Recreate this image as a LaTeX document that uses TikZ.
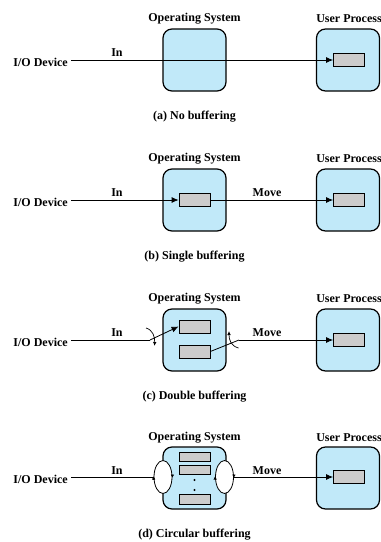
\documentclass[tikz,border=0pt]{standalone}
\usepackage{fontspec}
\setmainfont{Liberation Serif}
\usetikzlibrary{arrows.meta,shapes.geometric}

\definecolor{boxblue}{RGB}{193,233,249}
\definecolor{bufgray}{RGB}{204,204,204}

\tikzset{
  lbl/.style={font=\fontsize{12}{14}\selectfont\bfseries, inner sep=0pt},
  osbox/.style={draw=black, line width=1.2pt, fill=boxblue, rounded corners=9pt,
    minimum width=63pt, minimum height=62pt, inner sep=0pt},
  buf/.style={draw=black, line width=0.8pt, fill=bufgray, inner sep=0pt,
    minimum width=31pt, minimum height=13pt},
  smallbuf/.style={buf, minimum height=9.5pt},
  wire/.style={line width=0.8pt},
  flow/.style={wire, -{Latex[length=7pt,width=6pt]}},
  swarrow/.style={line width=0.7pt, -{Latex[length=4pt,width=3.5pt]}},
  tick/.style={line width=0.7pt, -{Latex[length=3.5pt,width=3.5pt]}},
  ring/.style={ellipse, draw=black, line width=0.8pt, fill=white, inner sep=0pt,
    minimum width=18pt, minimum height=33pt},
  dot/.style={circle, fill=black, inner sep=0pt, minimum size=2.2pt},
}

\begin{document}
\begin{tikzpicture}[x=1pt,y=-1pt]
\useasboundingbox (0,0) rectangle (381,542);

% ---------- (a) No buffering ----------
\node[lbl] (osA-t) at (194.5,19) {Operating System};
\node[lbl] (upA-t) at (349,19) {User Process};
\node[osbox] (osA) at (194.5,60) {};
\node[osbox] (upA) at (348,60) {};
\node[buf] (upbufA) at (349,60) {};
\node[lbl, anchor=east] (ioA) at (68,62) {I/O Device};
\draw[flow] ([xshift=3pt,yshift=2pt]ioA.east) -- (upbufA.west);
\node[lbl] (inA) at (117,53) {In};
\node[lbl] (capA) at (194.5,117) {(a) No buffering};

% ---------- (b) Single buffering ----------
\node[lbl] (osB-t) at (194.5,159) {Operating System};
\node[lbl] (upB-t) at (349,159) {User Process};
\node[osbox] (osB) at (194.5,200) {};
\node[osbox] (upB) at (348,200) {};
\node[buf] (bufB) at (194.5,200) {};
\node[buf] (upbufB) at (349,200) {};
\node[lbl, anchor=east] (ioB) at (68,202) {I/O Device};
\draw[flow] ([xshift=3pt,yshift=2pt]ioB.east) -- (bufB.west);
\draw[flow] (bufB.east) -- (upbufB.west);
\node[lbl] (inB) at (117,193) {In};
\node[lbl] (mvB) at (267,193) {Move};
\node[lbl] (capB) at (194.5,257) {(b) Single buffering};

% ---------- (c) Double buffering ----------
\node[lbl] (osC-t) at (194.5,299) {Operating System};
\node[lbl] (upC-t) at (349,299) {User Process};
\node[osbox] (osC) at (194.5,340) {};
\node[osbox] (upC) at (348,340) {};
\node[buf] (bufC1) at (194.5,326.5) {};
\node[buf] (bufC2) at (194.5,351.5) {};
\node[buf] (upbufC) at (349,340) {};
\node[lbl, anchor=east] (ioC) at (68,342) {I/O Device};
\coordinate (kinC) at (150,340);
\coordinate (kmvC) at (239,340);
\draw[wire] ([xshift=3pt,yshift=2pt]ioC.east) -- (kinC);
\draw[flow] (kinC) -- (bufC1.west);
\draw[wire] (bufC2.east) -- (kmvC);
\draw[flow] (kmvC) -- (upbufC.west);
% switch symbols
\coordinate (swLa) at (146,328);
\coordinate (swLb) at (154.5,346);
\coordinate (swRa) at (238.5,348);
\coordinate (swRb) at (229,331);
\draw[swarrow] (swLa) .. controls (153,330) and (155,337) .. (swLb);
\draw[swarrow] (swRa) .. controls (231,346) and (229,340) .. (swRb);
\node[lbl] (inC) at (117,333) {In};
\node[lbl] (mvC) at (267,333) {Move};
\node[lbl] (capC) at (194.5,397) {(c) Double buffering};

% ---------- (d) Circular buffering ----------
\node[lbl] (osD-t) at (194.5,438) {Operating System};
\node[lbl] (upD-t) at (349,438) {User Process};
\node[osbox] (osD) at (194.5,478) {};
\node[osbox] (upD) at (348,478) {};
\node[ring] (ringL) at (163,477) {};
\node[ring] (ringR) at (224.5,477) {};
\node[smallbuf] (bufD1) at (194.5,457) {};
\node[smallbuf] (bufD2) at (194.5,470) {};
\node[smallbuf] (bufD3) at (194.5,499.5) {};
\node[dot] (dotD1) at (194.5,480) {};
\node[dot] (dotD2) at (194.5,490) {};
\node[buf] (upbufD) at (349,477) {};
\node[lbl, anchor=east] (ioD) at (68,479) {I/O Device};
\draw[wire] ([xshift=3pt,yshift=2pt]ioD.east) -- (ringL.west);
\draw[flow] (ringR.east) -- (upbufD.west);
% direction marks on the rings
\draw[tick] ([yshift=-1.5pt]ringL.west) -- ([yshift=1pt]ringL.west);
\draw[tick] ([yshift=1.5pt]ringL.east) -- ([yshift=-1pt]ringL.east);
\draw[tick] ([yshift=-1.5pt]ringR.west) -- ([yshift=1pt]ringR.west);
\draw[tick] ([yshift=1.5pt]ringR.east) -- ([yshift=-1pt]ringR.east);
\node[lbl] (inD) at (117,471) {In};
\node[lbl] (mvD) at (267,471) {Move};
\node[lbl] (capD) at (194.5,535) {(d) Circular buffering};
\end{tikzpicture}
\end{document}
